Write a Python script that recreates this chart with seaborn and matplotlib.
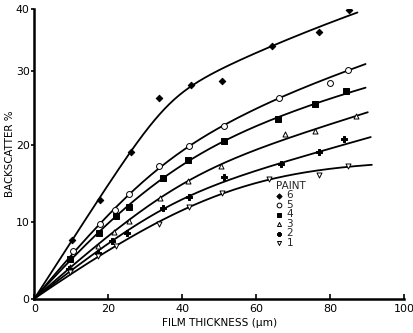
import numpy as np
import matplotlib
matplotlib.use("Agg")
import matplotlib.pyplot as plt
import seaborn as sns

# Backscatter (%) against dry film thickness (um) for six paints
paints = ["6", "5", "4", "3", "2", "1"]

thick_6 = [10.1, 17.7, 26.0, 33.8, 42.4, 50.7, 64.2, 77.0, 85.1]
scat_6 = [7.6, 12.9, 19.1, 26.2, 28.0, 28.6, 33.7, 36.0, 39.9]
thick_5 = [10.5, 17.7, 21.8, 25.6, 33.6, 41.8, 51.2, 66.2, 80.0, 84.9]
scat_5 = [6.2, 9.7, 11.6, 13.6, 17.3, 19.9, 22.6, 26.2, 28.3, 30.1]
thick_4 = [9.6, 17.5, 22.1, 25.6, 34.8, 41.6, 51.3, 65.8, 75.9, 84.3]
scat_4 = [5.2, 8.6, 10.8, 12.0, 15.7, 18.1, 20.6, 23.5, 25.4, 27.1]
thick_3 = [9.6, 17.3, 21.4, 25.6, 34.0, 41.6, 50.6, 67.9, 75.9, 87.0]
scat_3 = [4.1, 6.9, 8.7, 10.1, 13.2, 15.4, 17.3, 21.5, 21.9, 23.9]
thick_2 = [9.4, 17.3, 20.9, 25.1, 34.9, 41.7, 51.3, 66.8, 77.1, 83.8]
scat_2 = [3.9, 5.9, 7.5, 8.6, 11.8, 13.3, 15.9, 17.6, 19.2, 20.8]
thick_1 = [9.6, 17.3, 22.1, 33.7, 41.9, 50.8, 63.5, 76.9, 84.9]
scat_1 = [3.4, 5.5, 6.9, 9.8, 11.9, 13.8, 15.6, 16.1, 17.3]

# thickness at which each smoothed curve stops
curve_end = [87.4, 89.6, 89.6, 90.2, 91.0, 91.3]

x_ticks = [0, 20, 40, 60, 80, 100]
y_ticks = [0, 10, 20, 30, 40]

series = {
    "6": (thick_6, scat_6),
    "5": (thick_5, scat_5),
    "4": (thick_4, scat_4),
    "3": (thick_3, scat_3),
    "2": (thick_2, scat_2),
    "1": (thick_1, scat_1),
}

marker_style = {
    "6": dict(marker="D", s=11, facecolor="black"),
    "5": dict(marker="o", s=18, facecolor="white"),
    "4": dict(marker="s", s=16, facecolor="black"),
    "3": dict(marker="^", s=13, facecolor="white"),
    "2": dict(marker="P", s=13, facecolor="black"),
    "1": dict(marker="v", s=13, facecolor="white"),
}

SMOOTH_MIN = 2.5  # keeps the bend of each curve gradual


def smooth_knee(x, m1, c, m2, s):
    """Smooth minimum of an initial line m1*x and a later line c + m2*x, zero at x=0."""
    x = np.asarray(x, dtype=float)
    y = -s * np.logaddexp(-(m1 * x) / s, -(c + m2 * x) / s)
    y0 = -s * np.logaddexp(0.0, -c / s)
    return y - y0


def fit_knee(xs, ys):
    """Least-absolute-deviation grid search for the smooth knee curve."""
    xs = np.asarray(xs, dtype=float)
    ys = np.asarray(ys, dtype=float)

    def search(m1s, cs, m2s, ss):
        M1, C, M2, S = np.meshgrid(m1s, cs, m2s, ss, indexing="ij")
        P = [a.ravel()[:, None] for a in (M1, C, M2, S)]
        pred = smooth_knee(xs[None, :], *P)
        loss = np.abs(pred - ys[None, :]).sum(axis=1)
        i = int(np.argmin(loss))
        return [float(p[i, 0]) for p in P]

    best = search(np.linspace(0.2, 1.0, 41), np.linspace(0, 30, 31),
                  np.linspace(0, 0.5, 26), np.array([2.5, 3, 4, 5, 6, 8, 10, 12]))
    m1, c, m2, s = best
    best = search(np.linspace(m1 - 0.03, m1 + 0.03, 13), np.linspace(max(c - 1.5, 0), c + 1.5, 13),
                  np.linspace(max(m2 - 0.03, 0), m2 + 0.03, 13),
                  np.linspace(max(s * 0.7, SMOOTH_MIN), s * 1.3, 9))
    return best


sns.set_theme(style="ticks")
plt.rcParams["font.family"] = ["DejaVu Sans"]

fig = plt.figure(figsize=(4.14, 3.33), dpi=100)
ax = fig.add_axes([0.0833, 0.1036, 0.8925, 0.8685])

# the printed ordinate is gently compressed towards its top end
_KNEE = 25.0
_C = 0.00978

def _fwd(v):
    v = np.asarray(v, dtype=float)
    u = np.clip(v - _KNEE, 0, None)
    return v - _C * u**2

def _inv(t):
    t = np.asarray(t, dtype=float)
    w = np.clip(t - _KNEE, 0, 1 / (4 * _C))
    u = (1 - np.sqrt(1 - 4 * _C * w)) / (2 * _C)
    return np.where(t <= _KNEE, t, _KNEE + u)

ax.set_yscale("function", functions=(_fwd, _inv))

for paint, end in zip(paints, curve_end):
    xs, ys = series[paint]
    params = fit_knee(xs, ys)
    xx = np.linspace(0, end, 200)
    yy = smooth_knee(xx, *params)
    sns.lineplot(x=xx, y=yy, color="black", linewidth=1.3, ax=ax,
                 label="_nolegend_", legend=False)
    sns.scatterplot(x=xs, y=ys, edgecolor="black", linewidth=0.7,
                    ax=ax, label=paint, legend=False, zorder=3,
                    **marker_style[paint])

ax.set_xlim(0, 100)
ax.set_ylim(0, 40)
ax.set_xticks(x_ticks)
ax.set_yticks(y_ticks)
ax.set_xticklabels([str(t) for t in x_ticks])
ax.set_yticklabels([str(t) for t in y_ticks])
ax.tick_params(axis="x", direction="in", length=3.5, width=1.2, pad=4,
               labelsize=8, colors="black")
ax.tick_params(axis="y", direction="out", length=2.5, width=1.2, pad=1,
               labelsize=7.8, colors="black")

sns.despine(ax=ax)
for side in ("left", "bottom"):
    ax.spines[side].set_linewidth(1.8)
    ax.spines[side].set_color("black")

ax.set_xlabel("FILM THICKNESS (\u03bcm)", fontsize=7.6, labelpad=3, color="black")
ax.set_ylabel("BACKSCATTER %", fontsize=7.4, labelpad=0.5, color="black")

handles, labels = ax.get_legend_handles_labels()
ax.legend(handles, labels, title="PAINT", loc="upper left",
          bbox_to_anchor=(276 / 414, 1 - 181 / 333), bbox_transform=fig.transFigure,
          frameon=False, fontsize=7.5, title_fontsize=7.5, labelspacing=-0.05,
          handlelength=0.5, handletextpad=0.5, borderpad=0, borderaxespad=0,
          alignment="left", markerscale=0.8)

fig.savefig("out.png", dpi=100)
